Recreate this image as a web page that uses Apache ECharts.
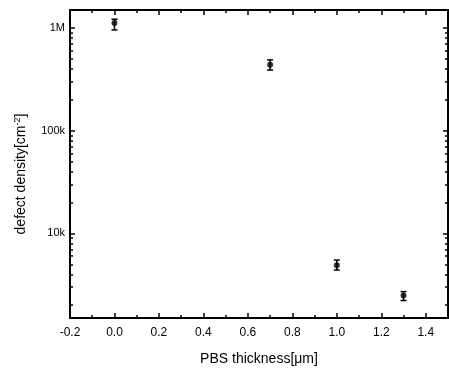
<!DOCTYPE html>
<html><head><meta charset="utf-8">
<script src="https://cdn.jsdelivr.net/npm/echarts@6/dist/echarts.min.js"></script>
<style>html,body{margin:0;padding:0;background:#fff}#c{width:449px;height:371px}</style>
</head><body><div id="c"></div>
<script>
const thickness = [0.0, 0.7, 1.0, 1.3];
const density = [1.12e6, 4.4e5, 4.9e3, 2.48e3];
const errLow = [0.96e6, 3.9e5, 4.4e3, 2.22e3];
const errHigh = [1.22e6, 4.9e5, 5.5e3, 2.71e3];
const xTickLabels = [-0.2, 0.0, 0.2, 0.4, 0.6, 0.8, 1.0, 1.2, 1.4];
const xMinorTicks = [-0.1, 0.1, 0.3, 0.5, 0.7, 0.9, 1.1, 1.3];
const yTickLabels = {10000: '10k', 100000: '100k', 1000000: '1M'};
const yMinorTicks = [2e3,3e3,4e3,5e3,6e3,7e3,8e3,9e3,2e4,3e4,4e4,5e4,6e4,7e4,8e4,9e4,2e5,3e5,4e5,5e5,6e5,7e5,8e5,9e5];
const yMin = 1500, yMax = 1.5e6;

const FONT = 'Arial,"Liberation Sans",sans-serif';
const chart = echarts.init(document.getElementById('c'));
const lineStyle = {color: '#000', width: 2};
const baseX = {type: 'value', min: -0.2, max: 1.5, splitLine: {show: false}};
const logY = {type: 'log', logBase: 10, min: yMin, max: yMax, splitLine: {show: false}};
const logMin = Math.log10(yMin), logMax = Math.log10(yMax);

chart.setOption({
  animation: false,
  grid: [{left: 70, top: 10, right: 1, bottom: 49}],
  xAxis: [
    Object.assign({}, baseX, {
      position: 'bottom',
      axisLine: {onZero: false, lineStyle},
      axisTick: {inside: true, length: 5, lineStyle: {color: '#000', width: 1.5}, customValues: xTickLabels},
      axisLabel: {customValues: xTickLabels, formatter: v => v.toFixed(1), color: '#000', fontFamily: FONT, fontSize: 12, margin: 9},
      name: 'PBS thickness[\u03bcm]', nameLocation: 'middle', nameGap: 34,
      nameTextStyle: {color: '#000', fontFamily: FONT, fontSize: 14}
    }),
    Object.assign({}, baseX, {
      position: 'bottom',
      axisLine: {show: false, onZero: false},
      axisTick: {inside: true, length: 3, lineStyle: {color: '#000', width: 1.5}, customValues: xMinorTicks},
      axisLabel: {show: false}
    }),
    Object.assign({}, baseX, {
      position: 'top',
      axisLine: {onZero: false, lineStyle},
      axisTick: {inside: true, length: 5, lineStyle: {color: '#000', width: 1.5}, customValues: xTickLabels},
      axisLabel: {show: false}
    }),
    Object.assign({}, baseX, {
      position: 'top',
      axisLine: {show: false, onZero: false},
      axisTick: {inside: true, length: 3, lineStyle: {color: '#000', width: 1.5}, customValues: xMinorTicks},
      axisLabel: {show: false}
    })
  ],
  yAxis: [
    Object.assign({}, logY, {
      position: 'left',
      axisLine: {onZero: false, lineStyle},
      axisTick: {inside: true, length: 5, lineStyle: {color: '#000', width: 1.5}},
      axisLabel: {
        color: '#000', fontFamily: FONT, fontSize: 11, margin: 5,
        formatter: v => {
          for (const k in yTickLabels) { if (Math.abs(v / k - 1) < 1e-6) return yTickLabels[k]; }
          return '';
        }
      },
      name: 'defect density[cm{sup|-2}]', nameLocation: 'middle', nameGap: 40, nameRotate: 90,
      nameTextStyle: {color: '#000', fontFamily: FONT, fontSize: 14, padding: [0, 20, 0, 0],
        rich: {sup: {fontSize: 9, verticalAlign: 'top', padding: [0, 0, 8, 0], fontFamily: FONT, color: '#000'}}}
    }),
    {
      type: 'value', min: logMin, max: logMax, position: 'left', splitLine: {show: false},
      axisLine: {show: false, onZero: false},
      axisTick: {inside: true, length: 3, lineStyle: {color: '#000', width: 1.5}, customValues: yMinorTicks.map(Math.log10)},
      axisLabel: {show: false}
    },
    Object.assign({}, logY, {
      position: 'right',
      axisLine: {onZero: false, lineStyle},
      axisTick: {inside: true, length: 5, lineStyle: {color: '#000', width: 1.5}},
      axisLabel: {show: false}
    }),
    {
      type: 'value', min: logMin, max: logMax, position: 'right', splitLine: {show: false},
      axisLine: {show: false, onZero: false},
      axisTick: {inside: true, length: 3, lineStyle: {color: '#000', width: 1.5}, customValues: yMinorTicks.map(Math.log10)},
      axisLabel: {show: false}
    }
  ],
  series: [
    {
      type: 'custom',
      xAxisIndex: 0, yAxisIndex: 0,
      data: thickness.map((x, i) => [x, errLow[i], errHigh[i]]),
      renderItem: (params, api) => {
        const lo = api.coord([api.value(0), api.value(1)]);
        const hi = api.coord([api.value(0), api.value(2)]);
        const w = 3;
        return {
          type: 'group',
          children: [
            {type: 'line', shape: {x1: lo[0], y1: lo[1], x2: hi[0], y2: hi[1]}, style: {stroke: '#000', lineWidth: 1.5}},
            {type: 'line', shape: {x1: lo[0] - w, y1: lo[1], x2: lo[0] + w, y2: lo[1]}, style: {stroke: '#000', lineWidth: 1.5}},
            {type: 'line', shape: {x1: hi[0] - w, y1: hi[1], x2: hi[0] + w, y2: hi[1]}, style: {stroke: '#000', lineWidth: 1.5}}
          ]
        };
      },
      z: 3
    },
    {
      type: 'scatter',
      xAxisIndex: 0, yAxisIndex: 0,
      data: thickness.map((x, i) => [x, density[i]]),
      symbol: 'circle', symbolSize: 6,
      itemStyle: {color: '#000'},
      z: 4
    }
  ]
});
</script></body></html>
